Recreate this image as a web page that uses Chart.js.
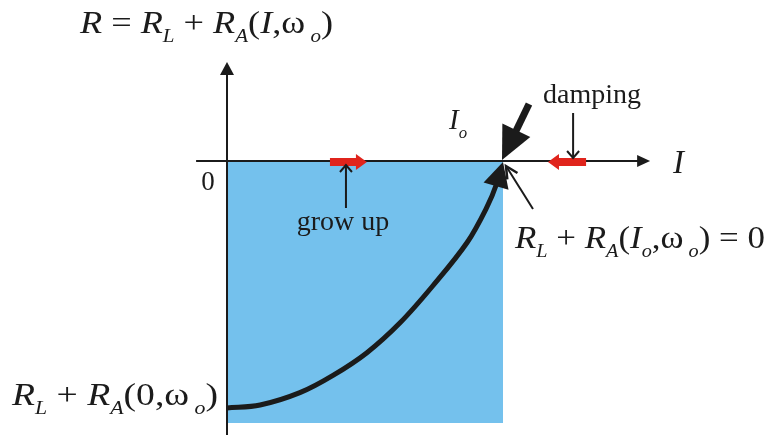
<!DOCTYPE html>
<html>
<head>
<meta charset="utf-8">
<script src="https://cdn.jsdelivr.net/npm/chart.js@4.4.1/dist/chart.umd.min.js"></script>
<style>
  html, body { margin: 0; padding: 0; background: #ffffff; }
  #wrap { width: 778px; height: 435px; }
</style>
</head>
<body>
<div id="wrap"><canvas id="c" width="778" height="435"></canvas></div>
<script>
// Loop current I (normalised to the saturation point Io = 1)
const currentI    = [0, 0.12, 0.264, 0.384, 0.507, 0.627, 0.746, 0.870, 0.942, 0.978, 1.0];
// Total resistance R = RL + RA(I, wo), normalised so that R(0) = -1
const resistanceR = [-1.0, -0.988, -0.938, -0.868, -0.776, -0.655, -0.505, -0.330, -0.186, -0.089, 0];
// Shaded region under the axis (I from 0 to Io)
const regionI = [0, 1];
const regionFloor = -1.061;
// Axis extents
const axisIRange = [-0.112, 1.533];
const axisRRange = [-1.109, 0.401];

const FONT = "'Liberation Serif', 'Times New Roman', serif";
const INK = '#1b1b1b';
const RED = '#e0241c';
const BLUE = '#74c1ed';

function drawSeq(ctx, x, base, parts, size, targetWidth) {
  const subSize = size * 0.58;
  const fontOf = p => (p.it ? 'italic ' : '') + (p.sub ? subSize : size) + 'px ' + FONT;
  let w = 0;
  parts.forEach(p => { ctx.font = fontOf(p); w += ctx.measureText(p.t).width; });
  const k = targetWidth ? targetWidth / w : 1;
  ctx.save();
  ctx.translate(x, base);
  ctx.scale(k, 1);
  ctx.fillStyle = INK;
  ctx.textBaseline = 'alphabetic';
  ctx.textAlign = 'left';
  let cx = 0;
  parts.forEach(p => {
    ctx.font = fontOf(p);
    ctx.fillText(p.t, cx, p.sub ? size * 0.3 : 0);
    cx += ctx.measureText(p.t).width;
  });
  ctx.restore();
}

function filledHead(ctx, fx, fy, tx, ty, len, wid) {
  const a = Math.atan2(ty - fy, tx - fx);
  const bx = tx - len * Math.cos(a), by = ty - len * Math.sin(a);
  const nx = -Math.sin(a) * wid / 2, ny = Math.cos(a) * wid / 2;
  ctx.beginPath();
  ctx.moveTo(tx, ty);
  ctx.lineTo(bx + nx, by + ny);
  ctx.lineTo(bx - nx, by - ny);
  ctx.closePath();
  ctx.fill();
  return [bx, by];
}

function openHead(ctx, fx, fy, tx, ty, len, wid) {
  const a = Math.atan2(ty - fy, tx - fx);
  const bx = tx - len * Math.cos(a), by = ty - len * Math.sin(a);
  const nx = -Math.sin(a) * wid / 2, ny = Math.cos(a) * wid / 2;
  ctx.beginPath();
  ctx.moveTo(bx + nx, by + ny);
  ctx.lineTo(tx, ty);
  ctx.lineTo(bx - nx, by - ny);
  ctx.stroke();
}

function redArrow(ctx, x0, x1, y) {
  // body from x0, head pointing toward x1
  const dir = Math.sign(x1 - x0);
  const headLen = 11, bodyH = 8, headH = 16;
  const hb = x1 - dir * headLen;
  ctx.fillStyle = RED;
  ctx.beginPath();
  ctx.moveTo(x0, y - bodyH / 2);
  ctx.lineTo(hb, y - bodyH / 2);
  ctx.lineTo(hb, y - headH / 2);
  ctx.lineTo(x1, y);
  ctx.lineTo(hb, y + headH / 2);
  ctx.lineTo(hb, y + bodyH / 2);
  ctx.lineTo(x0, y + bodyH / 2);
  ctx.closePath();
  ctx.fill();
}

const annotations = {
  id: 'annotations',
  afterDatasetsDraw(chart) {
    const ctx = chart.ctx;
    const xs = chart.scales.x, ys = chart.scales.y;
    const px = v => xs.getPixelForValue(v);
    const py = v => ys.getPixelForValue(v);
    const ox = px(0), oy = py(0);

    ctx.save();
    ctx.strokeStyle = INK;
    ctx.fillStyle = INK;
    ctx.lineCap = 'butt';

    // axes
    ctx.lineWidth = 2;
    ctx.beginPath();
    ctx.moveTo(px(axisIRange[0]), oy);
    ctx.lineTo(px(axisIRange[1]) - 10, oy);
    ctx.moveTo(ox, py(axisRRange[0]));
    ctx.lineTo(ox, py(axisRRange[1]) + 10);
    ctx.stroke();
    filledHead(ctx, ox, oy, px(axisIRange[1]), oy, 13, 12);
    filledHead(ctx, ox, oy, ox, py(axisRRange[1]), 13, 14);

    // arrowhead at the end of the curve
    const n = currentI.length;
    filledHead(ctx, px(currentI[n - 2]), py(resistanceR[n - 2]),
               px(currentI[n - 1]), py(resistanceR[n - 1]) + 1, 25, 26);

    // heavy pointer onto Io
    const tipX = px(1) - 1, tipY = oy - 1;
    ctx.lineWidth = 7;
    const [bx, by] = [tipX + 27, tipY - 56];
    const a = Math.atan2(tipY - by, tipX - bx);
    ctx.beginPath();
    ctx.moveTo(bx, by);
    ctx.lineTo(tipX - 28 * Math.cos(a), tipY - 28 * Math.sin(a));
    ctx.stroke();
    filledHead(ctx, bx, by, tipX, tipY, 33, 31);

    // thin pointer from the equilibrium label
    ctx.lineWidth = 2;
    ctx.beginPath();
    ctx.moveTo(533, 209);
    ctx.lineTo(px(1) + 3, oy + 5);
    ctx.stroke();
    ctx.lineWidth = 2.5;
    openHead(ctx, 533, 209, px(1) + 3, oy + 5, 12, 12);

    // red motion arrows on the axis
    redArrow(ctx, px(0.373), px(0.507), oy + 1);
    redArrow(ctx, px(1.301), px(1.163), oy + 1);

    // small pointers to the red arrows
    ctx.lineWidth = 2;
    ctx.beginPath();
    ctx.moveTo(px(0.431), 208);
    ctx.lineTo(px(0.431), oy + 4);
    ctx.moveTo(px(1.254), 113);
    ctx.lineTo(px(1.254), oy - 3);
    ctx.stroke();
    openHead(ctx, px(0.431), 208, px(0.431), oy + 4, 7, 12);
    openHead(ctx, px(1.254), 113, px(1.254), oy - 3, 7, 12);

    // text
    drawSeq(ctx, 80, 33, [
      {t: 'R', it: true}, {t: ' = '}, {t: 'R', it: true}, {t: 'L', it: true, sub: true},
      {t: ' + '}, {t: 'R', it: true}, {t: 'A', it: true, sub: true}, {t: '('},
      {t: 'I', it: true}, {t: ',ω'}, {t: ' o', it: true, sub: true}, {t: ')'}
    ], 31, 253);

    drawSeq(ctx, 12, 405, [
      {t: 'R', it: true}, {t: 'L', it: true, sub: true}, {t: ' + '},
      {t: 'R', it: true}, {t: 'A', it: true, sub: true}, {t: '(0,ω'},
      {t: ' o', it: true, sub: true}, {t: ')'}
    ], 31, 206);

    drawSeq(ctx, 515, 248, [
      {t: 'R', it: true}, {t: 'L', it: true, sub: true}, {t: ' + '},
      {t: 'R', it: true}, {t: 'A', it: true, sub: true}, {t: '('},
      {t: 'I', it: true}, {t: 'o', it: true, sub: true}, {t: ',ω'},
      {t: ' o', it: true, sub: true}, {t: ') = 0'}
    ], 31, 250);

    drawSeq(ctx, 449, 129, [{t: 'I', it: true}, {t: 'o', it: true, sub: true}], 29);
    drawSeq(ctx, 673, 173, [{t: 'I', it: true}], 33);

    ctx.fillStyle = INK;
    ctx.textAlign = 'center';
    ctx.textBaseline = 'alphabetic';
    ctx.font = '27px ' + FONT;
    ctx.fillText('0', 208, 190);
    ctx.font = '28px ' + FONT;
    ctx.fillText('grow up', 343, 230);
    ctx.fillText('damping', 592, 103);

    ctx.restore();
  }
};

const curvePoints = currentI.map((v, i) => ({x: v, y: resistanceR[i]}));
const lastIdx = curvePoints.length - 2;

new Chart(document.getElementById('c'), {
  type: 'scatter',
  data: {
    datasets: [
      {
        data: regionI.map(v => ({x: v, y: 0})),
        showLine: true,
        borderWidth: 0,
        borderColor: 'transparent',
        backgroundColor: BLUE,
        pointRadius: 0,
        fill: {value: regionFloor},
        order: 2
      },
      {
        data: curvePoints,
        showLine: true,
        borderColor: INK,
        borderWidth: 5,
        pointRadius: 0,
        tension: 0.35,
        fill: false,
        segment: {
          borderColor: c => (c.p0DataIndex >= lastIdx ? 'transparent' : INK)
        },
        order: 1
      }
    ]
  },
  options: {
    responsive: false,
    animation: false,
    devicePixelRatio: 1,
    layout: {padding: 0},
    plugins: {legend: {display: false}, tooltip: {enabled: false}, title: {display: false}},
    scales: {
      x: {type: 'linear', display: false, min: -0.8225, max: 1.9964},
      y: {type: 'linear', display: false, min: -1.1093, max: 0.6518}
    }
  },
  plugins: [annotations]
});
</script>
</body>
</html>
